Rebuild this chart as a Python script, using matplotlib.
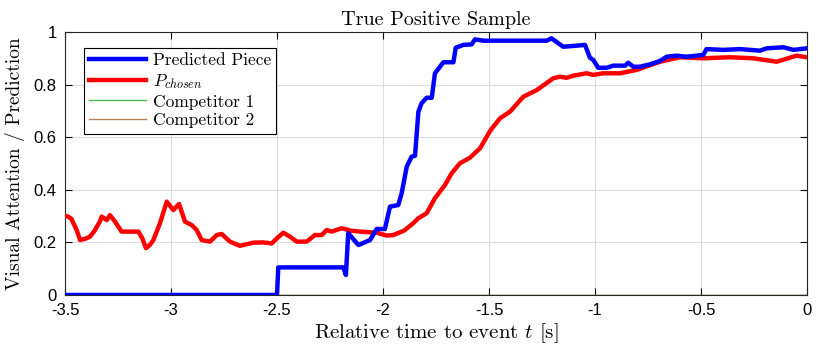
import matplotlib
matplotlib.use("Agg")
import matplotlib.pyplot as plt
import numpy as np

# ---- data ----
red_t = [-3.50, -3.49, -3.47, -3.445, -3.429, -3.40, -3.382, -3.36, -3.335, -3.327, -3.303, -3.288,
         -3.264, -3.233, -3.193, -3.154, -3.135, -3.118, -3.10, -3.083, -3.052, -3.020, -2.989,
         -2.962, -2.934, -2.902, -2.879, -2.855, -2.816, -2.784, -2.761, -2.722, -2.675, -2.612,
         -2.565, -2.525, -2.501, -2.470, -2.439, -2.407, -2.360, -2.321, -2.289, -2.266, -2.242,
         -2.195, -2.156, -2.108, -2.030, -1.983, -1.951, -1.900, -1.857, -1.833, -1.794, -1.755,
         -1.708, -1.676, -1.637, -1.590, -1.542, -1.495, -1.448, -1.401, -1.338, -1.275, -1.197,
         -1.165, -1.134, -1.102, -1.040, -1.008, -0.961, -0.882, -0.803, -0.693, -0.599, -0.489,
         -0.363, -0.253, -0.143, -0.049, -0.002]
red_v = [0.30, 0.30, 0.29, 0.247, 0.209, 0.215, 0.222, 0.245, 0.280, 0.298, 0.285, 0.304,
         0.279, 0.241, 0.241, 0.241, 0.215, 0.178, 0.19, 0.209, 0.273, 0.355, 0.323,
         0.346, 0.279, 0.266, 0.247, 0.209, 0.203, 0.228, 0.232, 0.203, 0.187, 0.199,
         0.200, 0.196, 0.215, 0.237, 0.222, 0.203, 0.203, 0.228, 0.228, 0.247, 0.241,
         0.254, 0.245, 0.241, 0.237, 0.226, 0.228, 0.245, 0.273, 0.292, 0.311, 0.368,
         0.418, 0.463, 0.501, 0.522, 0.558, 0.624, 0.672, 0.697, 0.754, 0.779, 0.824,
         0.830, 0.826, 0.834, 0.843, 0.837, 0.843, 0.843, 0.856, 0.887, 0.904, 0.900,
         0.904, 0.900, 0.887, 0.910, 0.904]

blue_t = [-3.50, -2.50, -2.494, -2.187, -2.175, -2.164, -2.116, -2.061, -2.030, -1.991, -1.967,
          -1.928, -1.912, -1.888, -1.865, -1.849, -1.833, -1.818, -1.794, -1.770, -1.755,
          -1.715, -1.668, -1.657, -1.621, -1.582, -1.566, -1.527, -1.228, -1.205, -1.173,
          -1.150, -1.087, -1.047, -1.024, -1.008, -0.985, -0.945, -0.914, -0.858, -0.843,
          -0.819, -0.788, -0.741, -0.693, -0.662, -0.615, -0.568, -0.489, -0.474, -0.395,
          -0.316, -0.222, -0.190, -0.111, -0.064, 0.0]
blue_v = [0.0, 0.0, 0.105, 0.105, 0.076, 0.235, 0.190, 0.209, 0.251, 0.251, 0.336,
          0.342, 0.387, 0.488, 0.526, 0.529, 0.697, 0.729, 0.750, 0.750, 0.843,
          0.885, 0.885, 0.940, 0.951, 0.953, 0.972, 0.967, 0.967, 0.976, 0.957,
          0.944, 0.948, 0.951, 0.902, 0.894, 0.864, 0.864, 0.872, 0.872, 0.883,
          0.868, 0.868, 0.877, 0.890, 0.906, 0.910, 0.906, 0.913, 0.935, 0.932,
          0.935, 0.929, 0.938, 0.942, 0.932, 0.938]

comp_t = [-3.5, 0.0]
comp1_v = [0.0, 0.0]
comp2_v = [0.0, 0.0]

x_ticks = [-3.5, -3, -2.5, -2, -1.5, -1, -0.5, 0]
x_tick_labels = ["-3.5", "-3", "-2.5", "-2", "-1.5", "-1", "-0.5", "0"]
y_ticks = [0, 0.2, 0.4, 0.6, 0.8, 1]
y_tick_labels = ["0", "0.2", "0.4", "0.6", "0.8", "1"]

# ---- style ----
plt.rcParams["mathtext.fontset"] = "cm"
serif = ["cmr10", "DejaVu Serif"]
tickfont = ["Liberation Sans", "DejaVu Sans"]

fig = plt.figure(figsize=(8.22, 3.53), dpi=100)
ax = fig.add_axes([65 / 822, 58 / 353, 742 / 822, 263 / 353])

ax.plot(comp_t, comp2_v, color="#b8815e", lw=1.0, label="Competitor 2", zorder=2)
ax.plot(comp_t, comp1_v, color="#4cbf4c", lw=1.0, label="Competitor 1", zorder=1)
ax.plot(blue_t, blue_v, color="#0000ff", lw=3.2, label="Predicted Piece", zorder=4,
        solid_joinstyle="round")
ax.plot(red_t, red_v, color="#ff0000", lw=3.2, label=r"$P_{chosen}$", zorder=3,
        solid_joinstyle="round")
handles, labels = ax.get_legend_handles_labels()
order = [2, 3, 1, 0]
leg = ax.legend([handles[i] for i in order], [labels[i] for i in order],
                loc="upper left", bbox_to_anchor=(0.025, 0.94), frameon=True, fancybox=False,
                edgecolor="black", framealpha=1, handlelength=3.3, handletextpad=0.4,
                borderpad=0.3, labelspacing=0.2, prop={"family": serif, "size": 12.5},
                borderaxespad=0)
leg.get_frame().set_linewidth(0.8)

ax.set_xlim(-3.5, 0)
ax.set_ylim(0, 1)
ax.set_xticks(x_ticks)
ax.set_xticklabels(x_tick_labels, family=tickfont, fontsize=12)
ax.set_yticks(y_ticks)
ax.set_yticklabels(y_tick_labels, family=tickfont, fontsize=12)
ax.tick_params(direction="in", top=True, right=True, length=5, width=0.8, pad=6)
ax.grid(True, color="#dddddd", lw=0.8)
ax.set_axisbelow(True)
for s in ax.spines.values():
    s.set_linewidth(0.8)
    s.set_color("#262626")

ax.set_title("True Positive Sample", family=serif, fontsize=14.5, pad=5)
ax.set_xlabel(r"Relative time to event $t$ [s]", family=serif, fontsize=15, labelpad=2)
ax.set_ylabel("Visual Attention / Prediction", family=serif, fontsize=14, labelpad=6)

fig.savefig("out.png", dpi=100)
